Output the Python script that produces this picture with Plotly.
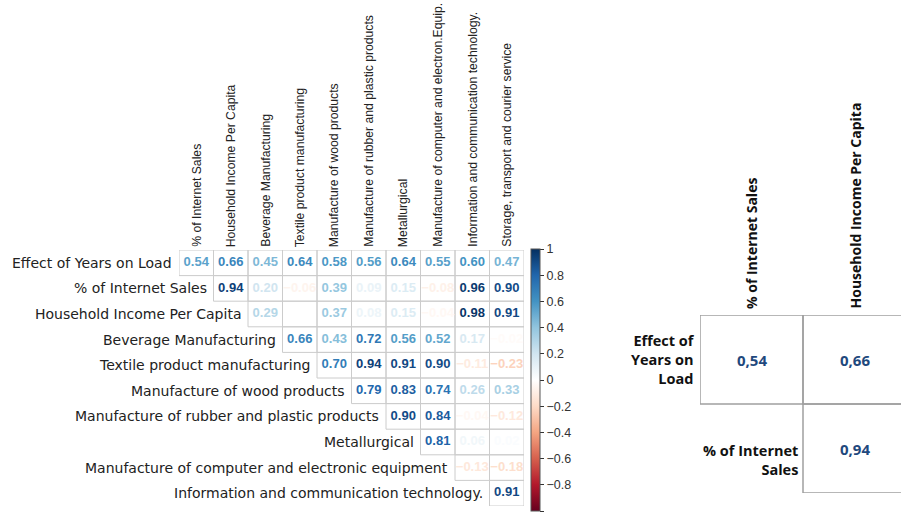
import plotly.graph_objects as go
from plotly.colors import sample_colorscale

# ---------------- data ----------------
col_labels = [
    "% of Internet Sales",
    "Household Income Per Capita",
    "Beverage Manufacturing",
    "Textile product manufacturing",
    "Manufacture of wood products",
    "Manufacture of rubber and plastic products",
    "Metallurgical",
    "Manufacture of computer and electron.Equip.",
    "Information and communication technology.",
    "Storage, transport and courier service",
]
row_labels = [
    "Effect of Years on Load",
    "% of Internet Sales",
    "Household Income Per Capita",
    "Beverage Manufacturing",
    "Textile product manufacturing",
    "Manufacture of wood products",
    "Manufacture of rubber and plastic products",
    "Metallurgical",
    "Manufacture of computer and electronic equipment",
    "Information and communication technology.",
]
# row i starts at column i (upper triangle)
row_effect = [0.54, 0.66, 0.45, 0.64, 0.58, 0.56, 0.64, 0.55, 0.60, 0.47]
row_internet = [0.94, 0.20, -0.06, 0.39, 0.09, 0.15, -0.08, 0.96, 0.90]
row_income = [0.29, 0.00, 0.37, 0.08, 0.15, -0.04, 0.98, 0.91]
row_beverage = [0.66, 0.43, 0.72, 0.56, 0.52, 0.17, -0.02]
row_textile = [0.70, 0.94, 0.91, 0.90, -0.11, -0.23]
row_wood = [0.79, 0.83, 0.74, 0.26, 0.33]
row_rubber = [0.90, 0.84, -0.04, -0.12]
row_metal = [0.81, 0.06, 0.02]
row_computer = [-0.13, -0.18]
row_ict = [0.91]
corr_rows = [row_effect, row_internet, row_income, row_beverage, row_textile,
             row_wood, row_rubber, row_metal, row_computer, row_ict]

colorbar_ticks = [1, 0.8, 0.6, 0.4, 0.2, 0, -0.2, -0.4, -0.6, -0.8, -1]

inset_cols = ["% of Internet Sales", "Household Income Per Capita"]
inset_rows = ["Effect of<br>Years on<br>Load", "% of Internet<br>Sales"]
inset_effect = [0.54, 0.66]
inset_internet = [0.94]
inset_values = [inset_effect, inset_internet]

# ---------------- styling ----------------
RDBU = ["#67001F", "#B2182B", "#D6604D", "#F4A582", "#FDDBC7", "#FFFFFF",
        "#D1E5F0", "#92C5DE", "#4393C3", "#2166AC", "#053061"]
scale = [[i / (len(RDBU) - 1), c] for i, c in enumerate(RDBU)]
GRID = "#CCCCCC"
W, H = 901, 513

def px_x(p):
    return p / W

def px_y(p):
    return 1 - p / H

fig = go.Figure()

xs, ys, vals = [], [], []
for i, row in enumerate(corr_rows):
    for k, v in enumerate(row):
        xs.append(i + k)
        ys.append(i)
        vals.append(v)

def fmt(v):
    return f"{v:.2f}".replace("-", "\u2212")

colors = sample_colorscale(scale, [(v + 1) / 2 for v in vals])

fig.add_trace(go.Scatter(
    x=xs, y=ys, mode="text",
    text=[f"<b>{fmt(v)}</b>" for v in vals],
    textfont=dict(family="Liberation Sans, Arial, sans-serif", size=13, color=colors),
    hoverinfo="skip", showlegend=False, xaxis="x", yaxis="y",
))

# colorbar carrier
fig.add_trace(go.Scatter(
    x=[None], y=[None], mode="markers", showlegend=False, hoverinfo="skip",
    marker=dict(color=[0], colorscale=scale, cmin=-1, cmax=1, showscale=True,
                colorbar=dict(
                    x=px_x(531), xanchor="left", y=px_y(511), yanchor="bottom",
                    len=(511 - 249) / H, lenmode="fraction",
                    thickness=9, thicknessmode="pixels",
                    outlinecolor="#555555", outlinewidth=1,
                    tickvals=colorbar_ticks, ticks="outside", ticklen=4,
                    tickcolor="#333333",
                    tickfont=dict(family="Liberation Sans, Arial, sans-serif", size=12.5, color="#333333"),
                    xpad=0, ypad=0,
                )),
    xaxis="x", yaxis="y",
))

shapes = []
for x, y in zip(xs, ys):
    shapes.append(dict(type="rect", xref="x", yref="y",
                       x0=x - 0.5, x1=x + 0.5, y0=y - 0.5, y1=y + 0.5,
                       line=dict(color=GRID, width=1), layer="below"))

annotations = []
for i, lab in enumerate(row_labels):
    annotations.append(dict(
        x=i - 0.5, y=i, xref="x", yref="y", text=lab, showarrow=False,
        xanchor="right", yanchor="middle", xshift=-5,
        font=dict(family="DejaVu Sans, sans-serif", size=14, color="#222222")))
for j, lab in enumerate(col_labels):
    annotations.append(dict(
        x=j, y=-0.5, xref="x", yref="y", text=lab, showarrow=False,
        textangle=-90, xanchor="center", yanchor="bottom", yshift=1,
        font=dict(family="Liberation Sans Narrow, Liberation Sans, Arial Narrow, sans-serif",
                  size=12.2, color="#222222")))

# ---------------- inset table ----------------
for i, row in enumerate(inset_values):
    for k, v in enumerate(row):
        c = i + k
        shapes.append(dict(type="rect", xref="x2", yref="y2",
                           x0=c - 0.5, x1=c + 0.5, y0=i - 0.5, y1=i + 0.5,
                           line=dict(color="#A0A0A0", width=1.5), layer="below"))
        annotations.append(dict(
            x=c, y=i, xref="x2", yref="y2", text=f"<b>{v:.2f}</b>".replace(".", ","),
            showarrow=False, font=dict(family="Open Sans, sans-serif", size=15, color="#1F497D")))
for i, lab in enumerate(inset_rows):
    annotations.append(dict(
        x=i - 0.5, y=i, xref="x2", yref="y2", text=f"<b>{lab}</b>", showarrow=False,
        xanchor="right", yanchor="middle", align="right", xshift=-3,
        yshift=0 if i == 0 else -11,
        font=dict(family="Open Sans, sans-serif", size=14.5, color="#111111")))
for j, lab in enumerate(inset_cols):
    annotations.append(dict(
        x=j, y=-0.5, xref="x2", yref="y2", text=f"<b>{lab}</b>", showarrow=False,
        textangle=-90, xanchor="center", yanchor="bottom", yshift=4,
        font=dict(family="Open Sans, sans-serif", size=14, color="#111111")))

axis_off = dict(showgrid=False, zeroline=False, showticklabels=False, ticks="", showline=False)

fig.update_layout(
    width=W, height=H,
    margin=dict(l=0, r=0, t=0, b=0),
    paper_bgcolor="white", plot_bgcolor="white",
    xaxis=dict(domain=[px_x(179), px_x(524)], range=[-0.5, 9.5], **axis_off),
    yaxis=dict(domain=[px_y(506), px_y(250)], range=[9.5, -0.5], **axis_off),
    xaxis2=dict(domain=[px_x(700), 1.0], range=[-0.5, 0.5 + (W - 803) / 103], anchor="y2", **axis_off),
    yaxis2=dict(domain=[px_y(493), px_y(315)], range=[1.5, -0.5], anchor="x2", **axis_off),
    shapes=shapes,
    annotations=annotations,
)

fig.write_html("out.html", config={"displayModeBar": False},
               post_script="document.body.style.margin='0';document.body.style.overflow='hidden';")
